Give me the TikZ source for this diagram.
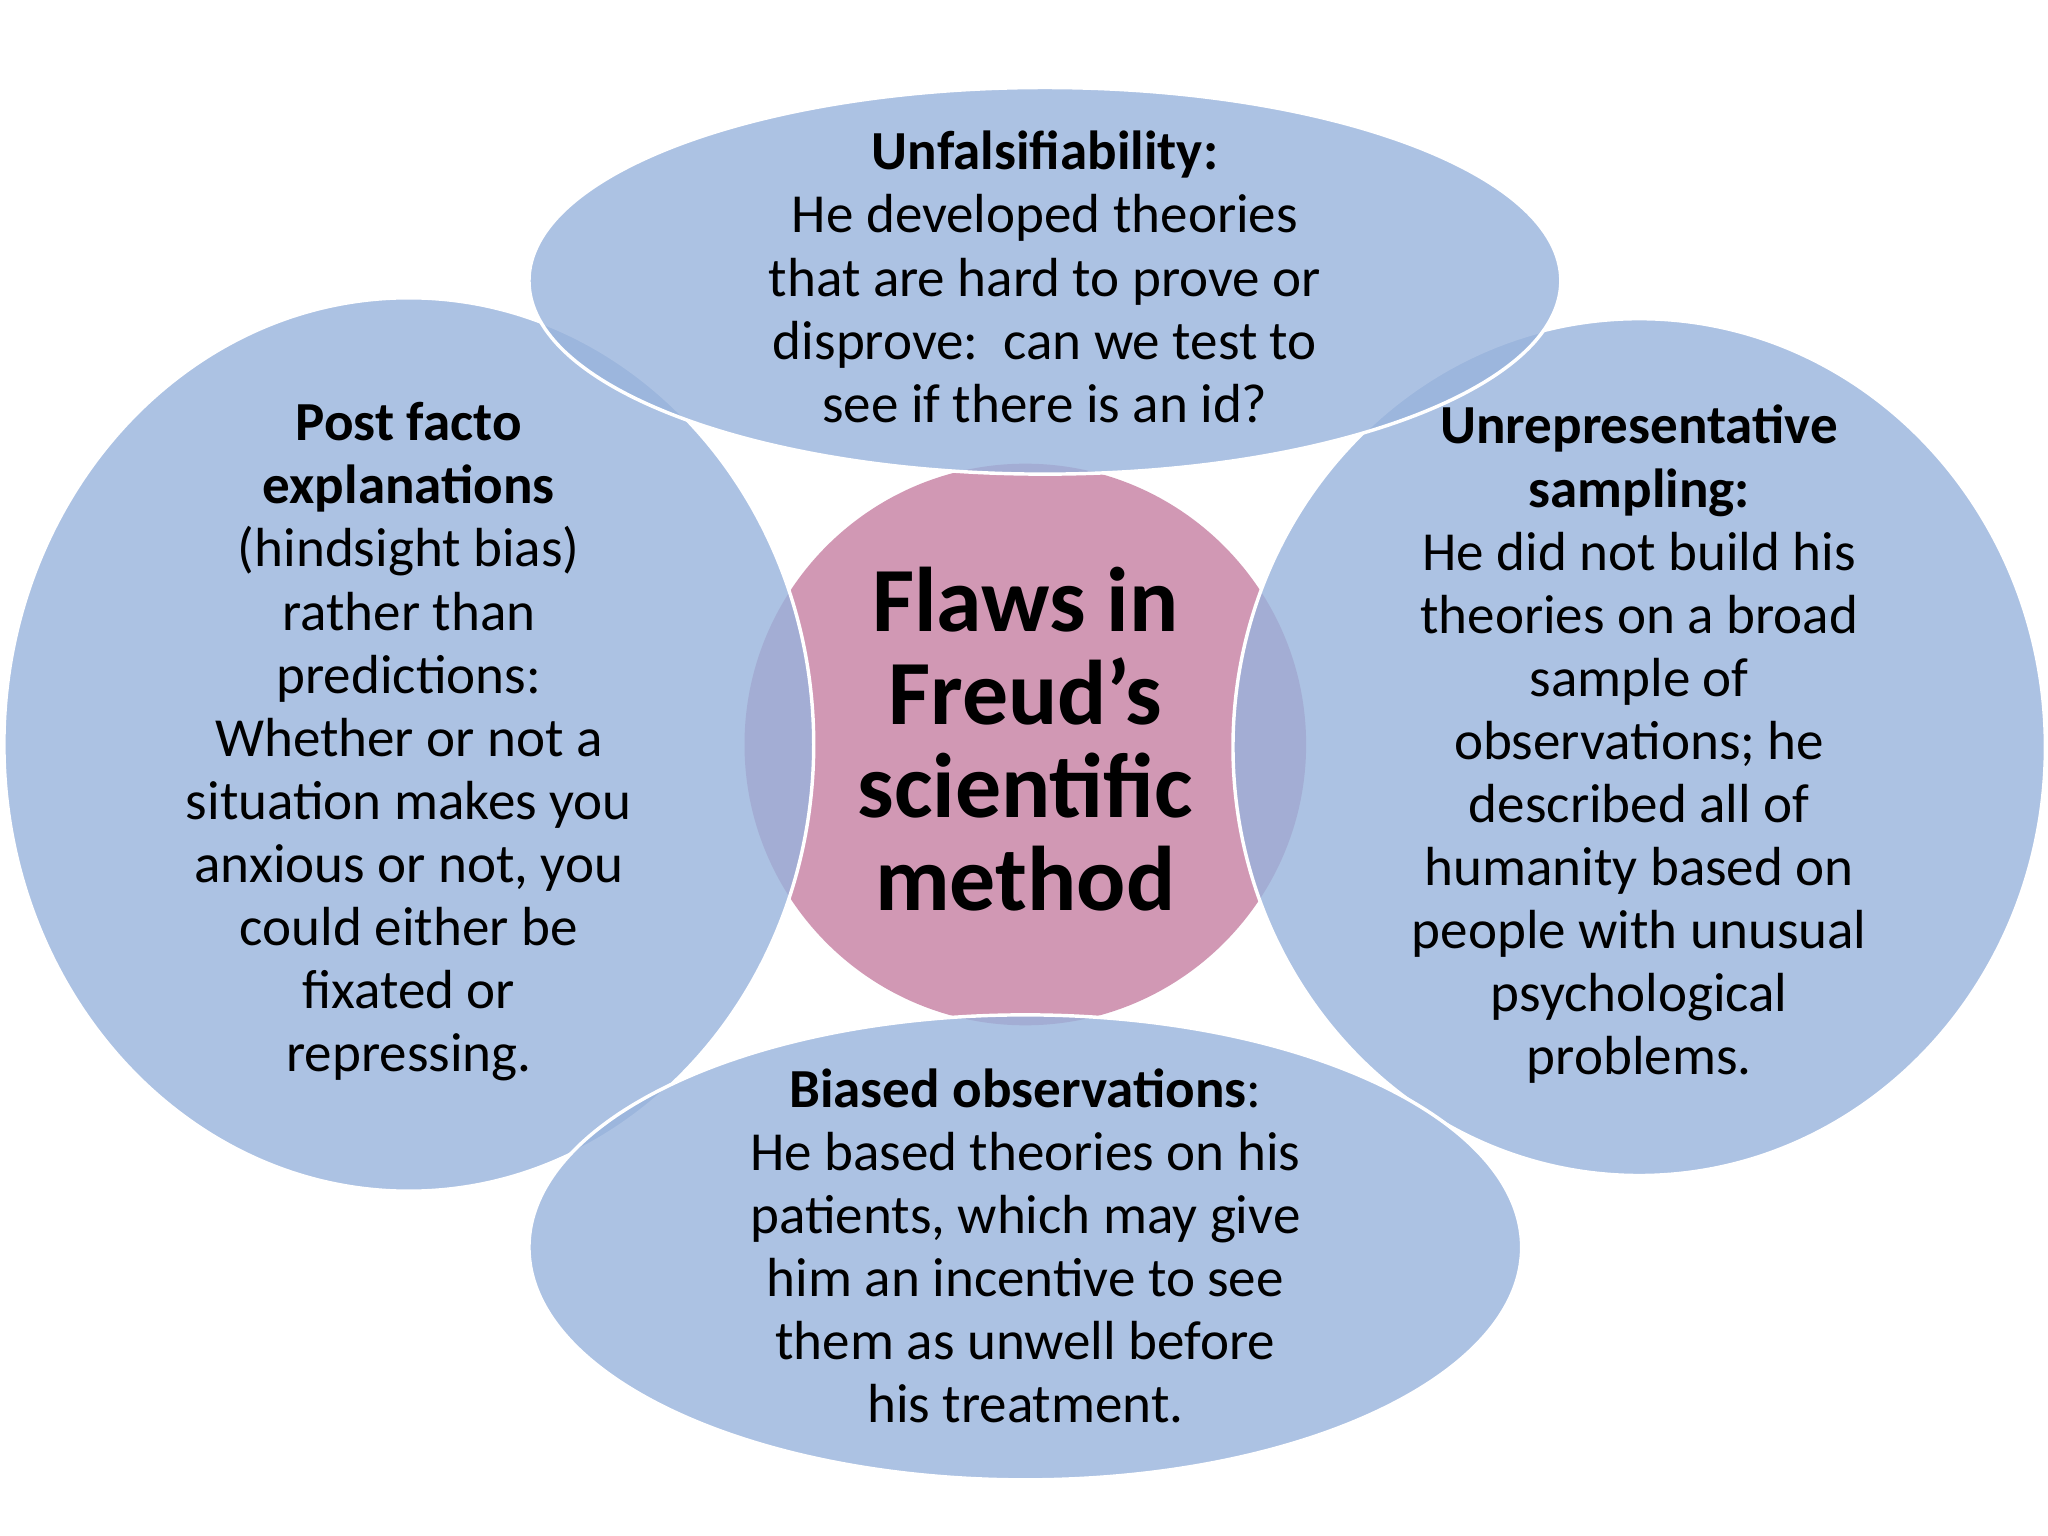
\documentclass[tikz,border=0pt]{standalone}
\usepackage{fontspec}
\setmainfont{Carlito}
\begin{document}
\begin{tikzpicture}[x=0.02cm,y=-0.02cm,
  blob/.style={fill=bl,fill opacity=0.8,draw=white,line width=1.5pt},
  txt/.style={align=center,text=black,font=\fontsize{24}{27.5}\selectfont}]
\definecolor{bl}{HTML}{98B3DC}
\definecolor{pk}{HTML}{D198B4}
\useasboundingbox (0,0) rectangle (1568,1176);
\fill[white] (0,0) rectangle (1568,1176);
\fill[pk] (785,570) circle (215);
\path[blob] (313,570) ellipse (310 and 342);
\path[blob] (1255,572) ellipse (311 and 328);
\path[blob] (800,215) ellipse (395 and 148);
\path[blob] (785,955) ellipse (380 and 178);
\node[txt] (top) at (800,212) {\textbf{Unfalsifiability:}\\He developed theories\\that are hard to prove or\\disprove:\ \ can we test to\\see if there is an id?};
\node[txt] (left) at (313,568) {\textbf{Post facto}\\\textbf{explanations}\\(hindsight bias)\\rather than\\predictions:\\Whether or not a\\situation makes you\\anxious or not, you\\could either be\\fixated or\\repressing.};
\node[txt] (right) at (1255,570) {\textbf{Unrepresentative}\\\textbf{sampling:}\\He did not build his\\theories on a broad\\sample of\\observations; he\\described all of\\humanity based on\\people with unusual\\psychological\\problems.};
\node[txt] (bot) at (785,954) {\textbf{Biased observations}:\\He based theories on his\\patients, which may give\\him an incentive to see\\them as unwell before\\his treatment.};
\node[align=center,font=\fontsize{40}{40.5}\selectfont\bfseries] (c) at (785,566) {Flaws in\\Freud’s\\scientific\\method};
\end{tikzpicture}
\end{document}
